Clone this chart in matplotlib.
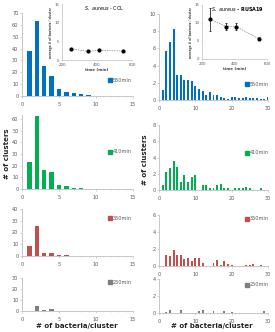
import numpy as np
import matplotlib
matplotlib.use("Agg")
import matplotlib.pyplot as plt

# cluster size histograms (counts per # of bacteria / cluster)
col_x = np.arange(1, 16)
col_550 = [38, 63.5, 25, 17, 6, 3.5, 2.5, 1.7, 0.8, 0.4, 0.3, 0.3, 0.2, 0.2, 0.1]
col_410 = [23.5, 63, 16.2, 14.5, 3.7, 2.3, 0.5, 0.7, 0.1, 0.2, 0.2, 0, 0, 0, 0.2]
col_350 = [8.3, 25.5, 2.5, 2.5, 0.5, 0.5, 0.3, 0, 0.4, 0, 0, 0, 0, 0, 0]
col_250 = [0.4, 4.3, 1.2, 1.8, 0, 0, 0, 0, 0, 0, 0, 0, 0, 0, 0]

rusa_x = np.arange(1, 31)
rusa_550 = [1.2, 5.75, 6.7, 8.2, 2.9, 2.9, 2.35, 2.35, 2.2, 1.6, 1.25, 1.0, 0.55, 0.9, 0.55,
            0.55, 0.35, 0.25, 0.15, 0.4, 0.3, 0.25, 0.2, 0.3, 0.2, 0.25, 0.2, 0.1, 0.1, 0.4]
rusa_410 = [0.6, 2.2, 2.7, 3.6, 2.8, 1.0, 1.8, 1.0, 1.6, 1.8, 0, 0.6, 0.6, 0.2, 0.2,
            0.6, 0.8, 0.2, 0.2, 0, 0.2, 0.2, 0.2, 0.4, 0.2, 0, 0, 0.2, 0, 0]
rusa_350 = [0, 1.3, 1.2, 1.9, 1.3, 1.3, 0.8, 0.9, 0.6, 0.95, 0.9, 0.4, 0.05, 0, 0.3,
            0.7, 0.1, 0.6, 0.2, 0.1, 0.05, 0.05, 0.05, 0.1, 0.1, 0.2, 0.05, 0.1, 0, 0]
rusa_250 = [0, 0.15, 0.4, 0, 0, 0.3, 0, 0, 0, 0, 0.2, 0.35, 0, 0, 0.2,
            0, 0, 0.2, 0, 0.15, 0, 0, 0, 0, 0, 0, 0, 0, 0.2, 0]

# inset: average cluster size vs time
times = [250, 350, 410, 550]
col_avg = [3.0, 2.3, 2.6, 2.4]
col_err = [0.3, 0.2, 0.2, 0.2]
rusa_avg = [11.0, 9.0, 9.0, 5.6]
rusa_err = [3.3, 1.0, 1.0, 0.4]

labels = ["550min", "410min", "350min", "250min"]
colors = ["#0070C0", "#00B050", "#C0504D", "#7F7F7F"]

W, H = 275, 332
fig = plt.figure(figsize=(W / 100, H / 100), dpi=100)

GRID = "#BFBFBF"
TXT = "#595959"


def px_axes(x0, x1, ytop, ybot):
    return fig.add_axes([x0 / W, 1 - ybot / H, (x1 - x0) / W, (ybot - ytop) / H])


def style(ax, xmax, xstep, ymax, ystep):
    ax.set_facecolor("none")
    for s in ["top", "right"]:
        ax.spines[s].set_visible(False)
    for s in ["left", "bottom"]:
        ax.spines[s].set_color(GRID)
        ax.spines[s].set_linewidth(0.6)
    ax.set_xlim(0, xmax)
    ax.set_xticks(np.arange(0, xmax + 1, xstep))
    ax.set_xticks(np.arange(0, xmax + 1, 1), minor=True)
    ax.set_yticks(np.arange(0, ymax + 0.01, ystep))
    ax.tick_params(labelsize=3.6, colors=GRID, labelcolor=TXT, length=1.5, width=0.5, pad=1)
    ax.tick_params(axis="x", which="minor", length=1, width=0.4, colors=GRID)
    ax.tick_params(axis="x", pad=2.5)


def legend(ax, lab, col, x, y):
    h = plt.Rectangle((0, 0), 1, 1, color=col)
    ax.legend([h], [lab], loc="center left", bbox_to_anchor=(x / W, 1 - y / H),
              bbox_transform=fig.transFigure, frameon=False, fontsize=3.6,
              handlelength=0.7, handleheight=0.9, handletextpad=0.3,
              borderpad=0, borderaxespad=0, labelcolor=TXT)


# left column: S. aureus COL
left_sets = [col_550, col_410, col_350, col_250]
left_rects = [(13, 96), (115, 189), (209, 256), (278, 311)]
left_ylim = [(70, 70), (63.5, 60), (40, 40), (30, 30)]
left_leg = [80, 152, 218, 282]
for vals, (yt, yb), (ytop, ytick), col, lab, ly in zip(left_sets, left_rects, left_ylim,
                                                       colors, labels, left_leg):
    ax = px_axes(22, 133, yt, yb)
    ax.bar(col_x, vals, width=0.62, color=col)
    style(ax, 15, 5, ytick, 10)
    ax.set_ylim(0, ytop)
    legend(ax, lab, col, 108, ly)

# right column: S. aureus RUSA19
right_sets = [rusa_550, rusa_410, rusa_350, rusa_250]
right_rects = [(14, 100), (125, 190), (215, 266), (279, 313)]
right_ylim = [(10, 10), (8, 8), (6, 6), (4, 4)]
right_leg = [84, 153, 219, 285]
for vals, (yt, yb), (ytop, ytick), col, lab, ly in zip(right_sets, right_rects, right_ylim,
                                                       colors, labels, right_leg):
    ax = px_axes(159, 268, yt, yb)
    ax.bar(rusa_x, vals, width=0.55, color=col)
    style(ax, 30, 10, ytick, 2)
    ax.set_ylim(0, ytop)
    legend(ax, lab, col, 245, ly)


def inset(x0, x1, yt, yb, avg, err, title, bold, tx):
    ax = px_axes(x0, x1, yt, yb)
    ax.set_facecolor("white")
    ax.errorbar(times, avg, yerr=err, fmt="o", color="black", ms=2, elinewidth=0.5,
                capsize=0.8, capthick=0.5)
    ax.plot(times, avg, ls=(0, (2, 1.5)), color="#7F7F7F", lw=0.5)
    for s in ["top", "right"]:
        ax.spines[s].set_visible(False)
    for s in ["left", "bottom"]:
        ax.spines[s].set_color(GRID)
        ax.spines[s].set_linewidth(0.5)
    ax.set_xlim(200, 600)
    ax.set_ylim(0, 15)
    ax.set_xticks([200, 400, 600])
    ax.set_yticks([0, 5, 10, 15])
    ax.tick_params(labelsize=2.8, colors=GRID, labelcolor=TXT, length=1, width=0.4, pad=1)
    ax.set_xlabel("time (min)", fontsize=2.8, fontweight="bold", labelpad=1, color="#404040")
    ax.set_ylabel("average # of bacteria / cluster", fontsize=2.2, fontweight="bold",
                  labelpad=1, color="#404040")
    ax.text(tx, 0.93, title, transform=ax.transAxes, ha="center", va="center",
            fontsize=3.5, fontweight="bold" if bold else "normal")
    return ax


inset(62, 132, 4, 60, col_avg, col_err, r"$\it{S.\ aureus}$ - COL", False, 0.6)
inset(202, 267, 5, 59, rusa_avg, rusa_err, r"$\bf{\it{S.\ aureus}}$ - RUSA19", True, 0.55)

fig.text(7 / W, 1 - 154 / H, "# of clusters", rotation=90, ha="center", va="center",
         fontsize=5, fontweight="bold", color="#262626")
fig.text(145 / W, 1 - 160 / H, "# of clusters", rotation=90, ha="center", va="center",
         fontsize=5, fontweight="bold", color="#262626")
fig.text(77 / W, 1 - 326 / H, "# of bacteria/cluster", ha="center", va="center",
         fontsize=5, fontweight="bold", color="#262626")
fig.text(212 / W, 1 - 326 / H, "# of bacteria/cluster", ha="center", va="center",
         fontsize=5, fontweight="bold", color="#262626")

fig.savefig("out.png", dpi=100, facecolor="white")
